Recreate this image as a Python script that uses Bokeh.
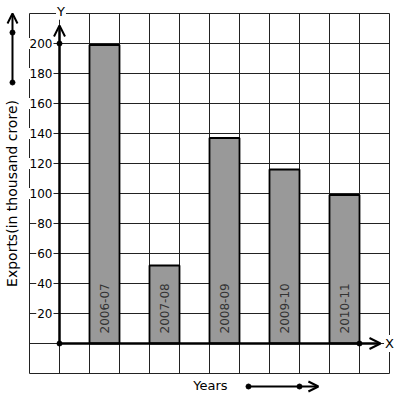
import numpy as np
from bokeh.plotting import figure
from bokeh.models import Arrow, OpenHead, ColumnDataSource
from bokeh.core.properties import value
from bokeh.embed import file_html
from bokeh.resources import INLINE

# ---- data ----
years = ["2006-07", "2007-08", "2008-09", "2009-10", "2010-11"]
exports = [199, 52, 137, 116, 99]
y_ticks = [20, 40, 60, 80, 100, 120, 140, 160, 180, 200]
x_title = "Years"
y_title = "Exports(in thousand crore)"

FONT = value("DejaVu Sans")

W, H = 397, 399
x0 = -59 / 30
y1 = 343 / 1.5
p = figure(width=W, height=H, output_backend="svg", toolbar_location=None,
           x_range=(x0, x0 + W / 30), y_range=(y1 - H / 1.5, y1),
           min_border=0, outline_line_color=None)
p.axis.visible = False
p.grid.visible = False
p.background_fill_color = "white"

# grid paper
gx = np.arange(-1, 12)
gy = np.arange(-20, 221, 20)
p.segment(x0=gx, y0=[-20] * len(gx), x1=gx, y1=[220] * len(gx), line_color="#222222", line_width=1)
p.segment(x0=[-1] * len(gy), y0=gy, x1=[11] * len(gy), y1=gy, line_color="#222222", line_width=1)

# bars
bx = [1.5 + 2 * i for i in range(len(years))]
src = ColumnDataSource(dict(x=bx, top=exports, name=years))
p.vbar(x="x", top="top", bottom=0, width=1, source=src, fill_color="#999999",
       line_color="black", line_width=1.8)
p.text(x="x", y=6.7, text="name", source=src, angle=np.pi / 2,
       text_align="left", text_baseline="middle", text_font=FONT,
       text_font_size="12px", text_color="#333333")

# axes with arrows
p.add_layout(Arrow(end=OpenHead(size=11, line_width=2, line_color="black"),
                   x_start=0, y_start=0, x_end=10.7, y_end=0, line_width=2.5, line_color="black"))
p.add_layout(Arrow(end=OpenHead(size=11, line_width=2, line_color="black"),
                   x_start=0, y_start=0, x_end=0, y_end=212, line_width=2.5, line_color="black"))
p.scatter(x=[0, 0, 10], y=[0, 200, 0], size=5, color="black")

# tick labels
p.text(x=[-0.2] * len(y_ticks), y=y_ticks, text=[str(t) for t in y_ticks],
       text_align="right", text_baseline="middle", text_font=FONT,
       text_font_size="12px", text_color="black",
       background_fill_color="white", padding=1)

# axis letters
p.text(x=[0.05], y=[221.5], text=["Y"], text_align="center", text_baseline="middle",
       text_font=FONT, text_font_size="13px", text_color="black",
       background_fill_color="white", padding=1)
p.text(x=[11.0], y=[0], text=["X"], text_align="center", text_baseline="middle",
       text_font=FONT, text_font_size="13px", text_color="black",
       background_fill_color="white", padding=1)

# titles
p.text(x=[5.03], y=[-28], text=[x_title], text_align="center", text_baseline="middle",
       text_font=FONT, text_font_size="13px", text_color="black")
p.text(x=[-1.567], y=[100], text=[y_title], angle=np.pi / 2, text_align="center",
       text_baseline="middle", text_font=FONT, text_font_size="14px", text_color="black")

# decorative arrows
p.add_layout(Arrow(end=OpenHead(size=10, line_width=2, line_color="black"),
                   x_start=-1.567, y_start=174, x_end=-1.567, y_end=220, line_width=2, line_color="black"))
p.scatter(x=[-1.567, -1.567], y=[174, 207.3], size=5, color="black")
p.add_layout(Arrow(end=OpenHead(size=10, line_width=2, line_color="black"),
                   x_start=6.3, y_start=-28.67, x_end=8.63, y_end=-28.67, line_width=2, line_color="black"))
p.scatter(x=[6.3, 8.0], y=[-28.67, -28.67], size=5, color="black")

open("out.html", "w").write(file_html(p, INLINE))
